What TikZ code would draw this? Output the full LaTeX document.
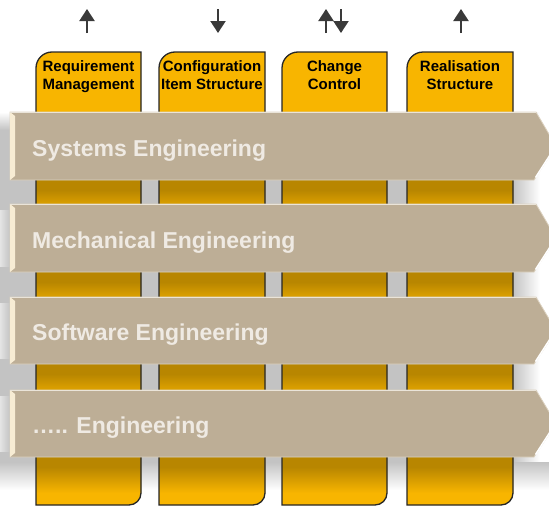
\documentclass[tikz,border=0pt]{standalone}
\usepackage{fontspec}
\setmainfont{Liberation Sans}
\usetikzlibrary{arrows.meta}

\definecolor{colbright}{HTML}{F8B500}
\definecolor{coldark}{HTML}{B88600}
\definecolor{coledge}{HTML}{262626}
\definecolor{bandfill}{HTML}{BDAE96}
\definecolor{bandtext}{HTML}{EFEAE3}
\definecolor{bandedge}{HTML}{DCD2C0}
\definecolor{bevel}{HTML}{F7ECD4}
\definecolor{shadowgray}{HTML}{C3C3C3}
\definecolor{lightgray}{HTML}{E4E4E4}
\definecolor{arrowgray}{HTML}{3A3A3A}

\tikzset{
  colbody/.style 2 args={insert path={(#1,505) -- (#1,68)
      .. controls (#1,59.2) and (#1+7.2,52) .. (#1+16,52) -- (#2,52) -- (#2,493)
      .. controls (#2,499.6) and (#2-5.4,505) .. (#2-12,505) -- cycle}},
  bandbody/.style 2 args={insert path={(10,#1) -- (536,#1) -- (556,{(#1+#2)/2})
      -- (534,#2) -- (10,#2) -- cycle}},
  colframe/.style={draw=coledge, line width=1.3pt},
  bandlabel/.style={anchor=base west, inner sep=0pt, text=bandtext,
      font=\bfseries\fontsize{23}{27}\selectfont},
  coltitle/.style={align=center, inner sep=0pt,
      font=\bfseries\fontsize{15}{18}\selectfont},
  flow/.style={draw=arrowgray, line width=2.2pt, -{Triangle[width=15pt,length=12pt]}}
}

\begin{document}
\begin{tikzpicture}[x=1pt,y=-1pt]
\useasboundingbox (0,0) rectangle (549,506);
\clip (0,0) rectangle (549,506);

% soft grey backdrop cast by the bands
\fill[shadowgray] (0,130) rectangle (549,462);
\shade[top color=white, bottom color=shadowgray] (0,112) rectangle (549,130);
\shade[left color=shadowgray, right color=white] (513,112) rectangle (540,490);
\fill[white] (540,112) rectangle (549,490);
\shade[top color=shadowgray, bottom color=white] (0,462) rectangle (549,490);
\foreach \t/\b in {204/272,297/364,390/457}
  \shade[left color=lightgray, right color=shadowgray] (0,\t+6) rectangle (10,\b-6);

% the four process columns
\foreach \xl/\xr in {36/141,159/265,282/387,407/513}{
  \fill[colbright, colbody={\xl}{\xr}];
  \begin{scope}
    \path[clip, colbody={\xl}{\xr}];
    \foreach \yb in {180,272,364,457}{
      \fill[coldark] (\xl-2,\yb-2) rectangle (\xr+2,\yb+10);
      \shade[top color=coldark, bottom color=colbright] (\xl-2,\yb+10) rectangle (\xr+2,\yb+36);
    }
  \end{scope}
  \path[colframe, colbody={\xl}{\xr}];
}

% column headings
\node[coltitle] (req) at (88.5,77.1) {\vphantom{hg}Requirement\\Management\vphantom{hg}};
\node[coltitle] (cis) at (212,77.1) {\vphantom{hg}Configuration\\Item Structure\vphantom{hg}};
\node[coltitle] (chg) at (334.5,77.1) {\vphantom{hg}Change\\Control\vphantom{hg}};
\node[coltitle] (rls) at (460,77.1) {\vphantom{hg}Realisation\\Structure\vphantom{hg}};

% engineering bands
\foreach \t/\b in {112/180,204/272,297/364,390/457}{
  \path[fill=bandfill, draw=bandedge, line width=0.8pt, bandbody={\t}{\b}];
  \fill[bevel] (10,\t) -- (15,\t+4) -- (15,\b-4) -- (10,\b) -- cycle;
  \draw[bandedge!60!white, line width=0.8pt] (10.4,\t+0.4) -- (536,\t+0.4);
  \draw[white, line width=1.5pt] (535.5,\b-2.5) -- (550,\b-25);
}
\node[bandlabel] (sys) at (32,156) {Systems Engineering};
\node[bandlabel] (mech) at (32,248) {Mechanical Engineering};
\node[bandlabel] (soft) at (32,340.5) {Software Engineering};
\node[bandlabel] (etc) at (32,433.5) {….. Engineering};

% information flow markers above the columns
\coordinate (reqA) at (87,33);  \coordinate (reqB) at (87,9);
\coordinate (cisA) at (218,9);  \coordinate (cisB) at (218,33);
\coordinate (chgA) at (326,33); \coordinate (chgB) at (326,9);
\coordinate (chgC) at (341,9);  \coordinate (chgD) at (341,33);
\coordinate (rlsA) at (461,33); \coordinate (rlsB) at (461,9);
\draw[flow] (reqA) -- (reqB);
\draw[flow] (cisA) -- (cisB);
\draw[flow] (chgA) -- (chgB);
\draw[flow] (chgC) -- (chgD);
\draw[flow] (rlsA) -- (rlsB);
\end{tikzpicture}
\end{document}
